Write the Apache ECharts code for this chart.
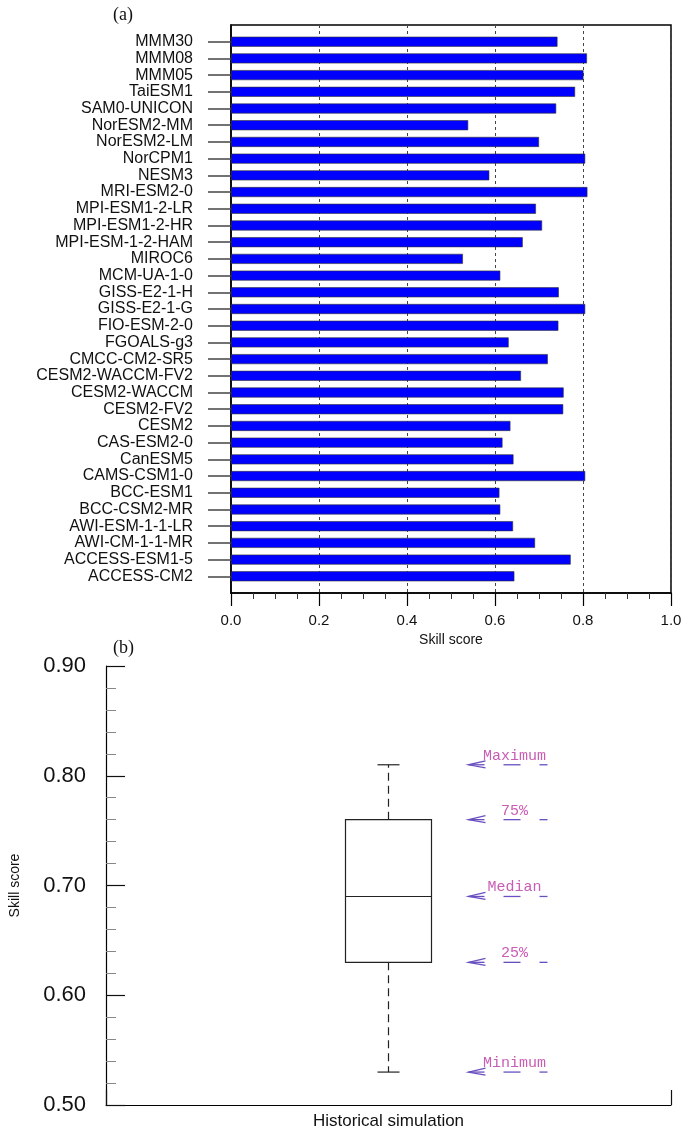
<!DOCTYPE html>
<html>
<head>
<meta charset="utf-8">
<title>Skill score</title>
<script src="https://cdn.jsdelivr.net/npm/echarts@6/dist/echarts.min.js"></script>
<style>
    html, body { margin: 0; padding: 0; background: #fff; }
    #chart { width: 685px; height: 1130px; }
</style>
</head>
<body>
<div id="chart"></div>
<script>
// (a) skill score per model, top to bottom
var models = ['MMM30', 'MMM08', 'MMM05', 'TaiESM1', 'SAM0-UNICON', 'NorESM2-MM', 'NorESM2-LM',
    'NorCPM1', 'NESM3', 'MRI-ESM2-0', 'MPI-ESM1-2-LR', 'MPI-ESM1-2-HR', 'MPI-ESM-1-2-HAM',
    'MIROC6', 'MCM-UA-1-0', 'GISS-E2-1-H', 'GISS-E2-1-G', 'FIO-ESM-2-0', 'FGOALS-g3',
    'CMCC-CM2-SR5', 'CESM2-WACCM-FV2', 'CESM2-WACCM', 'CESM2-FV2', 'CESM2', 'CAS-ESM2-0',
    'CanESM5', 'CAMS-CSM1-0', 'BCC-ESM1', 'BCC-CSM2-MR', 'AWI-ESM-1-1-LR', 'AWI-CM-1-1-MR',
    'ACCESS-ESM1-5', 'ACCESS-CM2'];
var scores = [0.742, 0.809, 0.801, 0.782, 0.739, 0.539, 0.700,
    0.805, 0.587, 0.810, 0.693, 0.707, 0.663,
    0.527, 0.612, 0.745, 0.805, 0.744, 0.631,
    0.720, 0.659, 0.756, 0.755, 0.635, 0.617,
    0.642, 0.805, 0.610, 0.612, 0.641, 0.691,
    0.772, 0.644];

// (b) box plot
var boxCategory = ['Historical simulation'];
var boxStats = [0.53, 0.63, 0.69, 0.76, 0.81]; // min, q1, median, q3, max
var statLabels = ['Minimum', '25%', 'Median', '75%', 'Maximum'];

var myChart = echarts.init(document.getElementById('chart'));

// blank slot at each end of the model axis
var modelAxis = [''].concat(models).concat(['']);
var barData = ['-'].concat(scores).concat(['-']);

function renderBox(params, api) {
    var c = api.value(0);
    var pMin = api.coord([c, api.value(1)]);
    var pQ1 = api.coord([c, api.value(2)]);
    var pMed = api.coord([c, api.value(3)]);
    var pQ3 = api.coord([c, api.value(4)]);
    var pMax = api.coord([c, api.value(5)]);
    var x = pMed[0], hw = 43, cw = 11;
    var solid = {stroke: '#222', lineWidth: 1.2};
    var dashed = {stroke: '#222', lineWidth: 1.2, lineDash: [8, 5]};
    return {
        type: 'group',
        children: [
            {type: 'rect', shape: {x: x - hw, y: pQ3[1], width: hw * 2, height: pQ1[1] - pQ3[1]},
                style: {stroke: '#222', lineWidth: 1.2, fill: 'none'}},
            {type: 'line', shape: {x1: x - hw, y1: pMed[1], x2: x + hw, y2: pMed[1]}, style: solid},
            {type: 'line', shape: {x1: x, y1: pQ3[1], x2: x, y2: pMax[1]}, style: dashed},
            {type: 'line', shape: {x1: x, y1: pQ1[1], x2: x, y2: pMin[1]}, style: dashed},
            {type: 'line', shape: {x1: x - cw, y1: pMax[1], x2: x + cw, y2: pMax[1]}, style: solid},
            {type: 'line', shape: {x1: x - cw, y1: pMin[1], x2: x + cw, y2: pMin[1]}, style: solid}
        ]
    };
}

function renderNote(params, api) {
    var p = api.coord([api.value(0), api.value(1)]);
    var x = p[0], y = p[1];
    var purple = {stroke: '#6a4fc0', lineWidth: 1.3, fill: 'none'};
    return {
        type: 'group',
        children: [
            {type: 'polyline', shape: {points: [[x + 97, y - 4], [x + 80, y], [x + 97, y + 3]]}, style: purple},
            {type: 'line', shape: {x1: x + 80, y1: y, x2: x + 96, y2: y}, style: purple},
            {type: 'line', shape: {x1: x + 115, y1: y, x2: x + 132, y2: y}, style: purple},
            {type: 'line', shape: {x1: x + 151, y1: y, x2: x + 159, y2: y}, style: purple},
            {type: 'text', x: x + 126, y: y - 9,
                style: {text: statLabels[api.value(2)], fill: '#c95cb5', font: '15px "Liberation Mono", monospace',
                    textAlign: 'center', textVerticalAlign: 'middle'}}
        ]
    };
}

var option = {
    backgroundColor: '#fff',
    textStyle: {fontFamily: 'Liberation Sans'},
    title: [
        {text: '(a)', left: 108, top: 1,
            textStyle: {fontFamily: 'Liberation Serif', fontSize: 18, fontWeight: 'normal', color: '#111'}},
        {text: '(b)', left: 108, top: 634,
            textStyle: {fontFamily: 'Liberation Serif', fontSize: 18, fontWeight: 'normal', color: '#111'}}
    ],
    grid: [
        {left: 231, right: 14, top: 25, bottom: 537, show: true, borderColor: '#000', borderWidth: 1.5},
        {left: 100, right: 14, top: 666, bottom: 25}
    ],
    xAxis: [
        {
            gridIndex: 0, type: 'value', min: 0, max: 1, interval: 0.2,
            name: 'Skill score', nameLocation: 'middle', nameGap: 37,
            nameTextStyle: {fontSize: 14, color: '#111'},
            axisLine: {show: true, onZero: false, lineStyle: {color: '#000', width: 1.5}},
            axisTick: {show: true, length: 13, lineStyle: {color: '#000', width: 1.2}},
            minorTick: {show: true, splitNumber: 4, length: 6, lineStyle: {color: '#333', width: 1}},
            axisLabel: {margin: 20, fontSize: 15, color: '#111',
                formatter: function (v) { return v.toFixed(1); }},
            splitLine: {show: true, lineStyle: {color: '#444', width: 1, type: [3, 3]}}
        },
        {
            gridIndex: 1, type: 'category', data: boxCategory, position: 'bottom',
            axisLine: {onZero: false, lineStyle: {color: '#000', width: 1.2}},
            axisTick: {alignWithLabel: true, inside: true, length: 15, lineStyle: {color: '#111', width: 1.2}},
            axisLabel: {margin: 8, fontSize: 17, color: '#111'}
        },
        {
            gridIndex: 1, type: 'value', min: 0, max: 1, interval: 1, position: 'bottom',
            axisLine: {show: false, onZero: false},
            axisTick: {show: true, inside: true, length: 15, lineStyle: {color: '#111', width: 1.2}},
            axisLabel: {show: false},
            splitLine: {show: false}
        }
    ],
    yAxis: [
        {
            gridIndex: 0, type: 'category', data: modelAxis, inverse: true, boundaryGap: false,
            axisLine: {lineStyle: {color: '#000', width: 1.5}},
            axisTick: {length: 23, interval: function (i, v) { return v !== ''; },
                lineStyle: {color: '#444', width: 1.5}},
            axisLabel: {interval: 0, margin: 38, fontSize: 16, color: '#111'},
            splitLine: {show: false}
        },
        {
            gridIndex: 1, type: 'value', min: 0.5, max: 0.9, interval: 0.1,
            name: 'Skill score', nameLocation: 'middle', nameRotate: 90, nameGap: 84,
            nameTextStyle: {fontSize: 14, color: '#111'},
            axisLine: {show: true, lineStyle: {color: '#000', width: 1.2}},
            axisTick: {show: true, inside: true, length: 19, lineStyle: {color: '#111', width: 1.2}},
            minorTick: {show: true, splitNumber: 5, length: 10, lineStyle: {color: '#888', width: 1}},
            axisLabel: {margin: 20, fontSize: 22, color: '#111',
                formatter: function (v) { return v.toFixed(2); }},
            splitLine: {show: false}
        }
    ],
    series: [
        {
            name: 'Skill score', type: 'bar', xAxisIndex: 0, yAxisIndex: 0,
            data: barData, barWidth: 10,
            itemStyle: {color: '#0000ff', borderColor: '#333', borderWidth: 0.6}
        },
        {
            name: 'Box', type: 'custom', xAxisIndex: 1, yAxisIndex: 1,
            data: [[0].concat(boxStats)],
            encode: {x: 0, y: [1, 2, 3, 4, 5]},
            renderItem: renderBox
        },
        {
            name: 'Notes', type: 'custom', xAxisIndex: 1, yAxisIndex: 1, clip: false,
            data: boxStats.map(function (v, i) { return [0, v, i]; }),
            encode: {x: 0, y: 1},
            renderItem: renderNote
        }
    ]
};

myChart.setOption(option);
</script>
</body>
</html>
